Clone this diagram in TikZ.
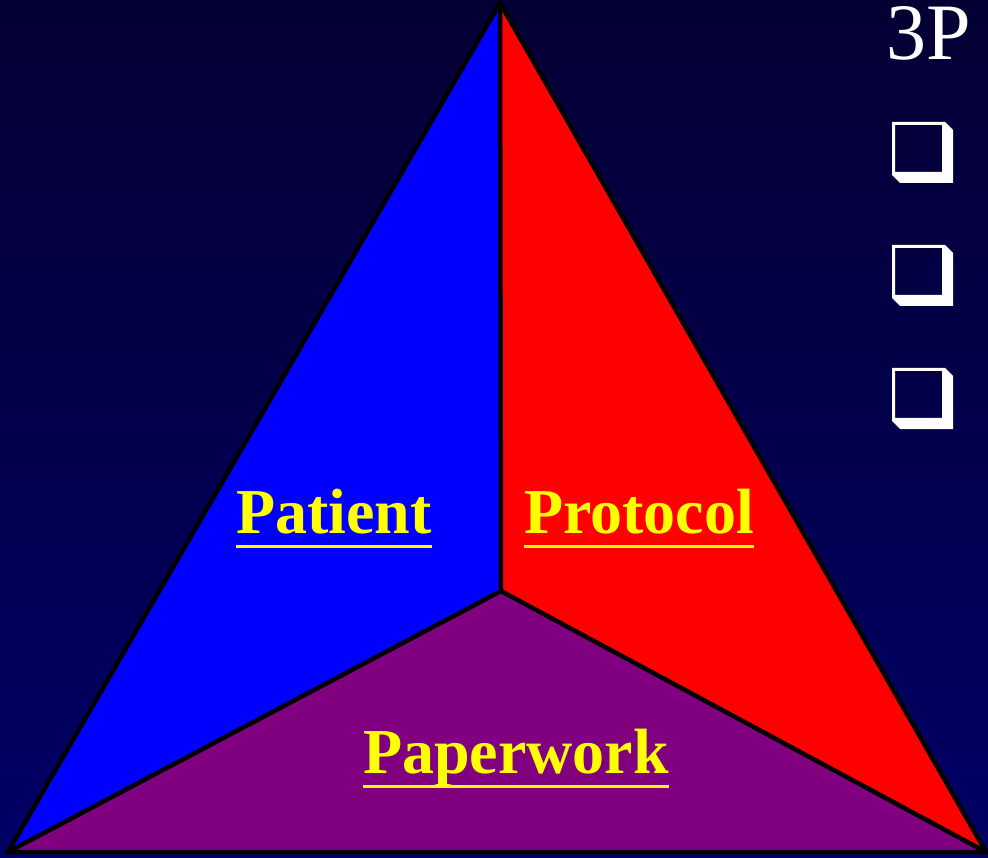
\documentclass[tikz,border=0pt]{standalone}
\usepackage{xcolor}
\usepackage{fontspec}
\setmainfont{Liberation Serif}
\usepackage{tikz}

\definecolor{bgtop}{HTML}{050033}
\definecolor{bgbot}{HTML}{000066}
\definecolor{pblue}{HTML}{0000FF}
\definecolor{pred}{HTML}{FF0000}
\definecolor{ppurple}{HTML}{800080}
\definecolor{pyellow}{HTML}{FFFF00}

% 带下划线的文字
\newcommand{\ulword}[1]{\leavevmode\setbox0\hbox{#1}\rlap{\raisebox{-15pt}{\rule{\wd0}{3.5pt}}}\box0}

\tikzset{
    part/.style = {draw=black, line width=4.5pt, line join=miter},
    ptext/.style = {anchor=base west, inner sep=0pt, text=pyellow,
        font=\fontsize{64}{70}\selectfont\bfseries},
}

\begin{document}
\begin{tikzpicture}[x=1pt, y=-1pt]
    \useasboundingbox (0,0) rectangle (988,858);
    \shade[top color=bgtop, bottom color=bgbot] (0,0) rectangle (988,858);    % 背景渐变

    \coordinate (A) at (500,3);      % 顶点
    \coordinate (L) at (8,852);      % 左下
    \coordinate (R) at (986,852);    % 右下
    \coordinate (O) at (501,591);    % 中心

    \fill[pblue] (A) -- (O) -- (L) -- cycle;
    \fill[pred] (A) -- (R) -- (O) -- cycle;
    \fill[ppurple] (L) -- (O) -- (R) -- cycle;
    \draw[part] (A) -- (R) -- (L) -- cycle;
    \draw[part] (O) -- (A);
    \draw[part] (O) -- (L);
    \draw[part] (O) -- (R);

    \node[ptext] (patient) at (236,533) {\ulword{Patient}};
    \node[ptext] (protocol) at (524,533) {\ulword{Protocol}};
    \node[ptext] (paperwork) at (363,773) {\ulword{Paperwork}};

    \node[anchor=base west, inner sep=0pt, text=white, text height=53pt,
        font=\fontsize{80}{84}\selectfont] (title) at (886,60) {3P};

    % 方框项目符号
    \foreach \y in {122,245,368}
        \fill[white, even odd rule]
            (892,\y) -- (945,\y) -- (953,\y+8) -- (953,\y+61) -- (900,\y+61) -- (892,\y+53) -- cycle
            (895,\y+3) rectangle (942,\y+50);
\end{tikzpicture}
\end{document}
